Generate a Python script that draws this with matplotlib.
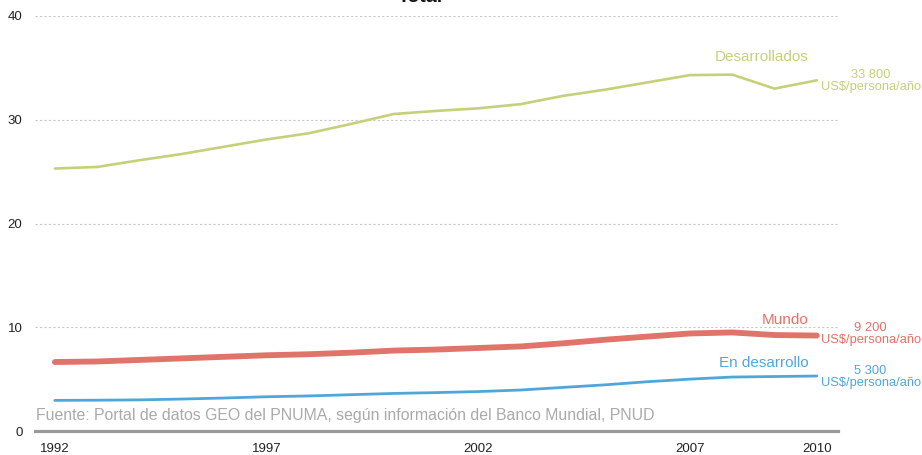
import matplotlib
matplotlib.use("Agg")
import matplotlib.pyplot as plt
import numpy as np

plt.rcParams['font.family'] = ['Liberation Sans', 'DejaVu Sans']

years = [1992, 1993, 1994, 1995, 1996, 1997, 1998, 1999, 2000, 2001,
         2002, 2003, 2004, 2005, 2006, 2007, 2008, 2009, 2010]
desarrollados = [25.3, 25.45, 26.1, 26.7, 27.4, 28.1, 28.7, 29.6, 30.55, 30.85,
                 31.1, 31.5, 32.3, 32.9, 33.6, 34.3, 34.35, 33.0, 33.8]
mundo = [6.65, 6.7, 6.85, 7.0, 7.15, 7.3, 7.4, 7.55, 7.75, 7.85,
         8.0, 8.15, 8.45, 8.8, 9.1, 9.4, 9.5, 9.25, 9.2]
en_desarrollo = [2.95, 2.97, 3.0, 3.08, 3.18, 3.3, 3.38, 3.5, 3.62, 3.7,
                 3.8, 3.95, 4.2, 4.45, 4.75, 5.0, 5.2, 5.25, 5.3]
xticks = [1992, 1997, 2002, 2007, 2010]
yticks = [0, 10, 20, 30, 40]

GREEN = '#c5d17a'
RED = '#e0736a'
BLUE = '#4fa7d9'

fig = plt.figure(figsize=(9.22, 4.55), dpi=100)
ax = fig.add_axes([35/922, 1 - 431/455, (838-35)/922, (431-16)/455])

ax.plot(years, desarrollados, color=GREEN, lw=1.9, solid_capstyle='round', solid_joinstyle='round')
ax.plot(years, mundo, color=RED, lw=4.2, solid_capstyle='round', solid_joinstyle='round')
ax.plot(years, en_desarrollo, color=BLUE, lw=2.0, solid_capstyle='round', solid_joinstyle='round')

ax.set_xlim(1991.53, 2010.5)
ax.set_ylim(0, 40)
for s in ax.spines.values():
    s.set_visible(False)
ax.axhline(0, color='#999999', lw=2.3, zorder=1, clip_on=False)
for y in yticks[1:]:
    ax.axhline(y, color='#c8c8c8', lw=0.8, ls=(0, (2, 2)), zorder=0)
ax.set_yticks(yticks)
ax.set_xticks(xticks)
ax.tick_params(length=0, labelsize=9.5, colors='#222222')
ax.tick_params(axis='x', pad=9)
ax.tick_params(axis='y', pad=9)

ax.text(2009.8, desarrollados[-1] + 1.6, 'Desarrollados', color=GREEN, fontsize=11, ha='right', va='bottom')
ax.text(2009.8, mundo[-1] + 0.85, 'Mundo', color=RED, fontsize=11, ha='right', va='bottom')
ax.text(2009.8, en_desarrollo[-1] + 0.6, 'En desarrollo', color=BLUE, fontsize=11, ha='right', va='bottom')

def endlab(val, y, color):
    s = f"{int(round(val*1000)):,}".replace(',', ' ')
    ax.text(2011.27, y, s, color=color, fontsize=9.3, ha='center', va='bottom', clip_on=False)
    ax.text(2011.27, y, 'US$/persona/año', color=color, fontsize=9.3, ha='center', va='top', clip_on=False)

endlab(desarrollados[-1], 33.8 - 0.05, GREEN)
endlab(mundo[-1], 9.2 + 0.15, RED)
endlab(en_desarrollo[-1], 5.3 - 0.05, BLUE)

ax.text(1991.55, 0.8, 'Fuente: Portal de datos GEO del PNUMA, según información del Banco Mundial, PNUD',
        color='#aaaaaa', fontsize=11.4, ha='left', va='bottom')

fig.text(420/922, 1 - 6/455, 'Total', fontsize=14, fontweight='bold', ha='center', va='bottom', color='#111111')

fig.savefig('out.png', dpi=100)
